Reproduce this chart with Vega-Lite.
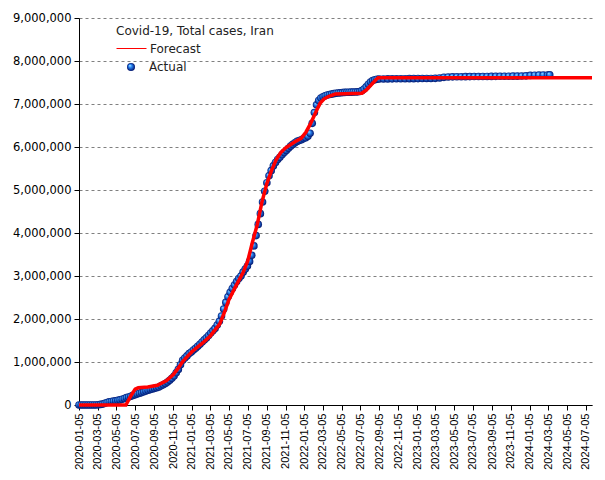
{
  "$schema": "https://vega.github.io/schema/vega-lite/v6.json",
  "width": 513,
  "height": 387,
  "autosize": "none",
  "padding": {"left": 79, "top": 18, "right": 13, "bottom": 75},
  "background": "white",
  "config": {"view": {"stroke": null}, "font": "DejaVu Sans"},
  "datasets": {
    "actual": [
      {"d":"2020-01-05","v":0},{"d":"2020-01-12","v":0},{"d":"2020-01-19","v":0},{"d":"2020-01-26","v":0},
      {"d":"2020-02-02","v":0},{"d":"2020-02-09","v":0},{"d":"2020-02-16","v":0},{"d":"2020-02-23","v":43},
      {"d":"2020-03-01","v":978},{"d":"2020-03-08","v":6566},{"d":"2020-03-15","v":13938},{"d":"2020-03-22","v":21638},{"d":"2020-03-29","v":38309},
      {"d":"2020-04-05","v":58226},{"d":"2020-04-12","v":71686},{"d":"2020-04-19","v":82211},{"d":"2020-04-26","v":90481},
      {"d":"2020-05-03","v":97424},{"d":"2020-05-10","v":107603},{"d":"2020-05-17","v":118392},{"d":"2020-05-24","v":133521},{"d":"2020-05-31","v":151466},
      {"d":"2020-06-07","v":171789},{"d":"2020-06-14","v":187427},{"d":"2020-06-21","v":204952},{"d":"2020-06-28","v":222669},
      {"d":"2020-07-05","v":240438},{"d":"2020-07-12","v":257303},{"d":"2020-07-19","v":273788},{"d":"2020-07-26","v":288839},
      {"d":"2020-08-02","v":306752},{"d":"2020-08-09","v":324692},{"d":"2020-08-16","v":343203},{"d":"2020-08-23","v":358905},{"d":"2020-08-30","v":373570},
      {"d":"2020-09-06","v":386658},{"d":"2020-09-13","v":402029},{"d":"2020-09-20","v":419043},{"d":"2020-09-27","v":446448},
      {"d":"2020-10-04","v":471772},{"d":"2020-10-11","v":500075},{"d":"2020-10-18","v":534631},{"d":"2020-10-25","v":574856},
      {"d":"2020-11-01","v":620491},{"d":"2020-11-08","v":673250},{"d":"2020-11-15","v":747455},{"d":"2020-11-22","v":828377},{"d":"2020-11-29","v":935799},
      {"d":"2020-12-06","v":1040547},{"d":"2020-12-13","v":1092407},{"d":"2020-12-20","v":1141963},{"d":"2020-12-27","v":1194963},
      {"d":"2021-01-03","v":1232600},{"d":"2021-01-10","v":1280438},{"d":"2021-01-17","v":1320000},{"d":"2021-01-24","v":1367032},{"d":"2021-01-31","v":1411731},
      {"d":"2021-02-07","v":1466435},{"d":"2021-02-14","v":1514000},{"d":"2021-02-21","v":1561000},{"d":"2021-02-28","v":1614000},
      {"d":"2021-03-07","v":1673000},{"d":"2021-03-14","v":1725000},{"d":"2021-03-21","v":1781000},{"d":"2021-03-28","v":1860000},
      {"d":"2021-04-04","v":1945000},{"d":"2021-04-11","v":2070000},{"d":"2021-04-18","v":2232000},{"d":"2021-04-25","v":2386000},
      {"d":"2021-05-02","v":2516000},{"d":"2021-05-09","v":2620000},{"d":"2021-05-16","v":2710000},{"d":"2021-05-23","v":2790000},{"d":"2021-05-30","v":2870000},
      {"d":"2021-06-06","v":2940000},{"d":"2021-06-13","v":3000000},{"d":"2021-06-20","v":3090000},{"d":"2021-06-27","v":3160000},
      {"d":"2021-07-04","v":3230000},{"d":"2021-07-11","v":3340000},{"d":"2021-07-18","v":3480000},{"d":"2021-07-25","v":3700000},
      {"d":"2021-08-01","v":3940000},{"d":"2021-08-08","v":4200000},{"d":"2021-08-15","v":4450000},{"d":"2021-08-22","v":4720000},{"d":"2021-08-29","v":4970000},
      {"d":"2021-09-05","v":5170000},{"d":"2021-09-12","v":5330000},{"d":"2021-09-19","v":5450000},{"d":"2021-09-26","v":5560000},
      {"d":"2021-10-03","v":5640000},{"d":"2021-10-10","v":5710000},{"d":"2021-10-17","v":5760000},{"d":"2021-10-24","v":5820000},{"d":"2021-10-31","v":5870000},
      {"d":"2021-11-07","v":5920000},{"d":"2021-11-14","v":5970000},{"d":"2021-11-21","v":6020000},{"d":"2021-11-28","v":6060000},
      {"d":"2021-12-05","v":6100000},{"d":"2021-12-12","v":6130000},{"d":"2021-12-19","v":6150000},{"d":"2021-12-26","v":6170000},
      {"d":"2022-01-02","v":6195000},{"d":"2022-01-09","v":6215000},{"d":"2022-01-16","v":6250000},{"d":"2022-01-23","v":6320000},{"d":"2022-01-30","v":6550000},
      {"d":"2022-02-06","v":6800000},{"d":"2022-02-13","v":6980000},{"d":"2022-02-20","v":7080000},{"d":"2022-02-27","v":7140000},
      {"d":"2022-03-06","v":7170000},{"d":"2022-03-13","v":7190000},{"d":"2022-03-20","v":7210000},{"d":"2022-03-27","v":7220000},
      {"d":"2022-04-03","v":7230000},{"d":"2022-04-10","v":7240000},{"d":"2022-04-17","v":7250000},{"d":"2022-04-24","v":7255000},
      {"d":"2022-05-01","v":7260000},{"d":"2022-05-08","v":7265000},{"d":"2022-05-15","v":7270000},{"d":"2022-05-22","v":7272000},{"d":"2022-05-29","v":7274000},
      {"d":"2022-06-05","v":7276000},{"d":"2022-06-12","v":7278000},{"d":"2022-06-19","v":7280000},{"d":"2022-06-26","v":7283000},
      {"d":"2022-07-03","v":7290000},{"d":"2022-07-10","v":7310000},{"d":"2022-07-17","v":7350000},{"d":"2022-07-24","v":7400000},{"d":"2022-07-31","v":7460000},
      {"d":"2022-08-07","v":7510000},{"d":"2022-08-14","v":7545000},{"d":"2022-08-21","v":7565000},{"d":"2022-08-28","v":7575000},
      {"d":"2022-09-04","v":7580000},{"d":"2022-09-18","v":7582000},{"d":"2022-10-02","v":7584000},{"d":"2022-10-16","v":7585000},{"d":"2022-10-30","v":7586000},
      {"d":"2022-11-13","v":7587000},{"d":"2022-11-27","v":7588000},{"d":"2022-12-11","v":7589000},{"d":"2022-12-25","v":7590000},
      {"d":"2023-01-08","v":7591000},{"d":"2023-01-22","v":7592000},{"d":"2023-02-05","v":7593000},{"d":"2023-02-19","v":7594000},
      {"d":"2023-03-05","v":7596000},{"d":"2023-03-19","v":7605000},{"d":"2023-04-02","v":7620000},{"d":"2023-04-16","v":7628000},{"d":"2023-04-30","v":7632000},
      {"d":"2023-05-14","v":7634000},{"d":"2023-05-28","v":7635000},{"d":"2023-06-11","v":7636000},{"d":"2023-06-25","v":7637000},
      {"d":"2023-07-09","v":7638000},{"d":"2023-07-23","v":7639000},{"d":"2023-08-06","v":7640000},{"d":"2023-08-20","v":7641000},
      {"d":"2023-09-03","v":7642000},{"d":"2023-09-17","v":7643000},{"d":"2023-10-01","v":7644000},{"d":"2023-10-15","v":7645000},{"d":"2023-10-29","v":7646000},
      {"d":"2023-11-12","v":7647000},{"d":"2023-11-26","v":7648000},{"d":"2023-12-10","v":7650000},{"d":"2023-12-24","v":7655000},
      {"d":"2024-01-07","v":7665000},{"d":"2024-01-21","v":7670000},{"d":"2024-02-04","v":7672000},{"d":"2024-02-18","v":7674000},
      {"d":"2024-03-03","v":7675000},{"d":"2024-03-10","v":7676000}
    ],
    "forecast": [
      {"d":"2020-01-05","v":0},{"d":"2020-06-05","v":0},{"d":"2020-06-20","v":200000},{"d":"2020-07-05","v":370000},
      {"d":"2020-07-15","v":400000},{"d":"2020-08-15","v":420000},{"d":"2020-09-15","v":460000},{"d":"2020-10-15","v":570000},
      {"d":"2020-11-05","v":700000},{"d":"2020-11-20","v":840000},{"d":"2020-12-05","v":1000000},{"d":"2020-12-20","v":1120000},
      {"d":"2021-01-05","v":1240000},{"d":"2021-02-05","v":1420000},{"d":"2021-03-05","v":1600000},{"d":"2021-04-05","v":1880000},
      {"d":"2021-04-20","v":2150000},{"d":"2021-05-05","v":2450000},{"d":"2021-05-20","v":2660000},{"d":"2021-06-05","v":2880000},
      {"d":"2021-06-20","v":3080000},{"d":"2021-07-05","v":3350000},{"d":"2021-07-20","v":3780000},{"d":"2021-08-05","v":4200000},
      {"d":"2021-08-20","v":4720000},{"d":"2021-09-05","v":5150000},{"d":"2021-09-20","v":5450000},{"d":"2021-10-05","v":5700000},
      {"d":"2021-10-20","v":5870000},{"d":"2021-11-05","v":5980000},{"d":"2021-12-05","v":6120000},{"d":"2021-12-25","v":6200000},
      {"d":"2022-01-10","v":6350000},{"d":"2022-01-25","v":6550000},{"d":"2022-02-05","v":6720000},{"d":"2022-02-15","v":6880000},
      {"d":"2022-02-25","v":7020000},{"d":"2022-03-10","v":7120000},{"d":"2022-03-25","v":7180000},{"d":"2022-04-15","v":7230000},
      {"d":"2022-07-10","v":7250000},{"d":"2022-07-25","v":7330000},{"d":"2022-08-10","v":7450000},{"d":"2022-08-25","v":7570000},
      {"d":"2022-09-01","v":7610000},{"d":"2024-07-25","v":7610000}
    ]
  },
  "encoding": {
    "x": {
      "field": "d", "type": "temporal",
      "scale": {"type": "utc", "domain": [{"year":2020,"month":1,"date":5,"utc":true},{"year":2024,"month":7,"date":25,"utc":true}]},
      "axis": {
        "title": null, "grid": false, "format": "%Y-%m-%d", "labelAngle": -90,
        "values": [
          {"year":2020,"month":1,"date":5,"utc":true},{"year":2020,"month":3,"date":5,"utc":true},{"year":2020,"month":5,"date":5,"utc":true},
          {"year":2020,"month":7,"date":5,"utc":true},{"year":2020,"month":9,"date":5,"utc":true},{"year":2020,"month":11,"date":5,"utc":true},
          {"year":2021,"month":1,"date":5,"utc":true},{"year":2021,"month":3,"date":5,"utc":true},{"year":2021,"month":5,"date":5,"utc":true},
          {"year":2021,"month":7,"date":5,"utc":true},{"year":2021,"month":9,"date":5,"utc":true},{"year":2021,"month":11,"date":5,"utc":true},
          {"year":2022,"month":1,"date":5,"utc":true},{"year":2022,"month":3,"date":5,"utc":true},{"year":2022,"month":5,"date":5,"utc":true},
          {"year":2022,"month":7,"date":5,"utc":true},{"year":2022,"month":9,"date":5,"utc":true},{"year":2022,"month":11,"date":5,"utc":true},
          {"year":2023,"month":1,"date":5,"utc":true},{"year":2023,"month":3,"date":5,"utc":true},{"year":2023,"month":5,"date":5,"utc":true},
          {"year":2023,"month":7,"date":5,"utc":true},{"year":2023,"month":9,"date":5,"utc":true},{"year":2023,"month":11,"date":5,"utc":true},
          {"year":2024,"month":1,"date":5,"utc":true},{"year":2024,"month":3,"date":5,"utc":true},{"year":2024,"month":5,"date":5,"utc":true},
          {"year":2024,"month":7,"date":5,"utc":true}
        ],
        "labelFont": "Liberation Sans", "labelFontSize": 11, "labelColor": "black",
        "domainColor": "black", "tickColor": "black", "tickSize": 5, "labelPadding": 3, "labelOverlap": false, "labelFlush": false
      }
    },
    "y": {
      "field": "v", "type": "quantitative",
      "scale": {"domain": [0, 9000000], "nice": false},
      "axis": {
        "title": null, "format": ",d",
        "values": [0,1000000,2000000,3000000,4000000,5000000,6000000,7000000,8000000,9000000],
        "grid": true, "gridDash": [3, 3], "gridColor": "#808080", "gridOpacity": 1,
        "labelFont": "DejaVu Sans", "labelFontSize": 11.5, "labelColor": "black",
        "domainColor": "black", "tickColor": "black", "tickSize": 5, "labelPadding": 3
      }
    }
  },
  "layer": [
    {
      "data": {"name": "actual"},
      "mark": {
        "type": "point", "filled": true, "size": 58, "opacity": 1, "strokeWidth": 0,
        "fill": {"gradient": "radial", "x1": 0.35, "y1": 0.3, "r1": 0, "x2": 0.5, "y2": 0.5, "r2": 0.5,
          "stops": [{"offset": 0, "color": "#b0ecff"}, {"offset": 0.4, "color": "#2a86f5"}, {"offset": 1, "color": "#00126a"}]}
      },
      "encoding": {
        "shape": {
          "datum": "Actual", "type": "nominal",
          "scale": {"domain": ["Actual"], "range": ["circle"]},
          "legend": {
            "title": null, "orient": "none", "legendX": 46, "legendY": 43,
            "symbolSize": 64, "labelOffset": 12, "labelFont": "DejaVu Sans", "labelFontSize": 12, "labelColor": "#222",
            "encode": {"symbols": {"update": {"fill": {"value": {"gradient": "radial", "x1": 0.35, "y1": 0.3, "r1": 0, "x2": 0.5, "y2": 0.5, "r2": 0.5,
              "stops": [{"offset": 0, "color": "#b0ecff"}, {"offset": 0.4, "color": "#2a86f5"}, {"offset": 1, "color": "#00126a"}]}}, "strokeWidth": {"value": 0}, "opacity": {"value": 1}}}}
          }
        }
      }
    },
    {
      "data": {"name": "forecast"},
      "mark": {"type": "line", "strokeWidth": 3.5},
      "encoding": {
        "stroke": {
          "datum": "Forecast", "type": "nominal",
          "scale": {"domain": ["Forecast"], "range": ["#ff0000"]},
          "legend": {
            "title": "Covid-19, Total cases, Iran", "orient": "none", "legendX": 37, "legendY": 8,
            "titleFont": "DejaVu Sans", "titleFontSize": 12, "titleFontWeight": "normal", "titleColor": "#222", "titlePadding": -5,
            "symbolType": "stroke", "symbolSize": 900, "labelOffset": 3,
            "labelFont": "DejaVu Sans", "labelFontSize": 12, "labelColor": "#222",
            "encode": {"symbols": {"update": {"stroke": {"value": "#ff3c00"}, "strokeWidth": {"value": 1}}}}
          }
        }
      }
    }
  ]
}
